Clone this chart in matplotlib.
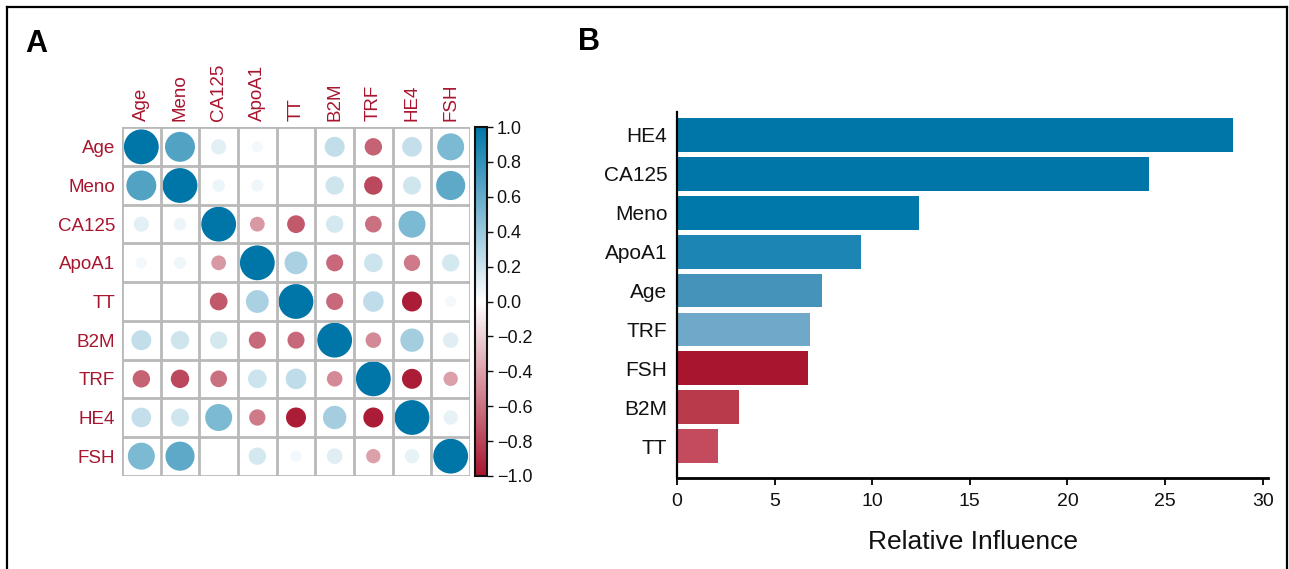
import numpy as np
import matplotlib
matplotlib.use("Agg")
import matplotlib.pyplot as plt
import matplotlib.colors as mcolors
from matplotlib.patches import Circle
from matplotlib.lines import Line2D
import matplotlib.cm as cm

# ---------------- data ----------------
variables = ["Age", "Meno", "CA125", "ApoA1", "TT", "B2M", "TRF", "HE4", "FSH"]
corr = [
    [1.00, 0.74, 0.19, 0.10, 0.01, 0.33, -0.25, 0.32, 0.60],
    [0.74, 1.00, 0.13, 0.12, 0.00, 0.28, -0.28, 0.27, 0.70],
    [0.19, 0.13, 1.00, -0.18, -0.26, 0.25, -0.23, 0.60, 0.02],
    [0.10, 0.12, -0.18, 1.00, 0.43, -0.24, 0.29, -0.22, 0.25],
    [0.01, 0.00, -0.26, 0.43, 1.00, -0.24, 0.35, -0.33, 0.10],
    [0.33, 0.28, 0.25, -0.24, -0.24, 1.00, -0.20, 0.45, 0.20],
    [-0.25, -0.28, -0.23, 0.29, 0.35, -0.20, 1.00, -0.33, -0.17],
    [0.32, 0.27, 0.60, -0.22, -0.33, 0.45, -0.33, 1.00, 0.17],
    [0.60, 0.70, 0.02, 0.25, 0.10, 0.20, -0.17, 0.17, 1.00],
]
colorbar_ticks = [-1.0, -0.8, -0.6, -0.4, -0.2, 0.0, 0.2, 0.4, 0.6, 0.8, 1.0]

bar_features = ["HE4", "CA125", "Meno", "ApoA1", "Age", "TRF", "FSH", "B2M", "TT"]
bar_influence = [28.5, 24.2, 12.4, 9.4, 7.45, 6.8, 6.7, 3.2, 2.1]
bar_colors = ["#0076A8", "#0076A8", "#0078A9", "#1C85B3", "#4592BB",
              "#70A8CA", "#A8152F", "#B83A4B", "#C44B5D"]
x_ticks = [0, 5, 10, 15, 20, 25, 30]

# ---------------- figure ----------------
W, H = 1289, 569
fig = plt.figure(figsize=(W / 100, H / 100), dpi=100)
fig.patch.set_facecolor("white")

RED = "#A8152F"
BLUE = "#0076A8"
cmap = mcolors.LinearSegmentedColormap.from_list("rwb", [RED, "#FFFFFF", BLUE])

NEG_SAT = 0.34
GAM = 1.3


def fwd(x):
    x = np.asarray(x, dtype=float)
    return np.where(x < 0, -np.minimum(1.0, (-x / NEG_SAT)) ** GAM,
                    np.abs(x) ** GAM)


def inv(y):
    y = np.asarray(y, dtype=float)
    return np.where(y < 0, -NEG_SAT * (-y) ** (1 / GAM), np.abs(y) ** (1 / GAM))


circle_norm = mcolors.FuncNorm((fwd, inv), vmin=-1, vmax=1)
bar_norm = mcolors.Normalize(vmin=-1, vmax=1)

FONT_A = ["Liberation Sans", "DejaVu Sans"]
FONT_B = ["Liberation Sans", "DejaVu Sans"]

# ---- Panel A: correlation plot ----
axA = fig.add_axes([122 / W, 1 - 476 / H, 348 / W, 349 / H])
n = len(variables)
C = np.array(corr)
for i in range(n):
    for j in range(n):
        r = C[i, j]
        if abs(r) < 1e-9:
            continue
        axA.add_patch(Circle((j + 0.5, i + 0.5), radius=0.45 * np.sqrt(abs(r)),
                             facecolor=cmap(circle_norm(r)), edgecolor="none", zorder=2))
for k in range(n + 1):
    axA.axhline(k, color="#B9B9B9", lw=2.0, zorder=3)
    axA.axvline(k, color="#B9B9B9", lw=2.0, zorder=3)
axA.set_xlim(0, n)
axA.set_ylim(n, 0)
axA.set_aspect("equal")
for s in axA.spines.values():
    s.set_visible(False)
axA.xaxis.tick_top()
axA.set_xticks(np.arange(n) + 0.5)
axA.set_yticks(np.arange(n) + 0.5)
axA.set_xticklabels(variables, rotation=90, color=RED, fontsize=13.5, family=FONT_A)
axA.set_yticklabels(variables, color=RED, fontsize=13.5, family=FONT_A)
axA.tick_params(length=0, pad=5)

# colorbar
cax = fig.add_axes([475 / W, 1 - 476 / H, 12 / W, 349 / H])
sm = cm.ScalarMappable(norm=bar_norm, cmap=cmap)
cb = fig.colorbar(sm, cax=cax)
cb.set_ticks(colorbar_ticks)
cb.set_ticklabels([f"{t:.1f}".replace("-", "\u2212") for t in colorbar_ticks])
cb.outline.set_linewidth(1.5)
cb.outline.set_edgecolor("#111111")
cax.tick_params(length=4, width=1, pad=3, labelsize=13, colors="#111111")
for lab in cax.get_yticklabels():
    lab.set_family(FONT_A)

# ---- Panel B: relative influence ----
axB = fig.add_axes([677 / W, 1 - 478 / H, 591 / W, 366 / H])
nb = len(bar_features)
ypos = np.arange(nb)[::-1]
axB.barh(ypos, bar_influence, height=0.87, color=bar_colors)
axB.set_ylim(-0.82, nb - 1 + 0.59)
axB.set_xlim(0, 30.27)
axB.set_yticks(ypos)
axB.set_yticklabels(bar_features, fontsize=15, family=FONT_B, color="#111111")
axB.set_xticks(x_ticks)
axB.set_xticklabels([str(t) for t in x_ticks], fontsize=14, family=FONT_B, color="#111111")
axB.tick_params(axis="y", length=0, pad=7)
axB.tick_params(axis="x", length=5, width=1.3, pad=6)
axB.spines["top"].set_visible(False)
axB.spines["right"].set_visible(False)
axB.spines["left"].set_linewidth(1.6)
axB.spines["bottom"].set_linewidth(2.0)
axB.set_xlabel("Relative Influence", fontsize=19, family=FONT_B, color="#111111", labelpad=14)

# panel letters
fig.text(25 / W, 1 - 52 / H, "A", fontsize=22, weight="bold", family=FONT_A, va="baseline")
fig.text(578 / W, 1 - 50 / H, "B", fontsize=22, weight="bold", family=FONT_A, va="baseline")

# outer frame (left, top, right)
lw = 1.6
fig.add_artist(Line2D([7 / W, 7 / W], [0, 1 - 7 / H], transform=fig.transFigure, color="black", lw=lw))
fig.add_artist(Line2D([7 / W, 1287 / W], [1 - 7 / H, 1 - 7 / H], transform=fig.transFigure, color="black", lw=lw))
fig.add_artist(Line2D([1287 / W, 1287 / W], [0, 1 - 7 / H], transform=fig.transFigure, color="black", lw=lw))

fig.savefig("out.png", dpi=100, facecolor="white")
